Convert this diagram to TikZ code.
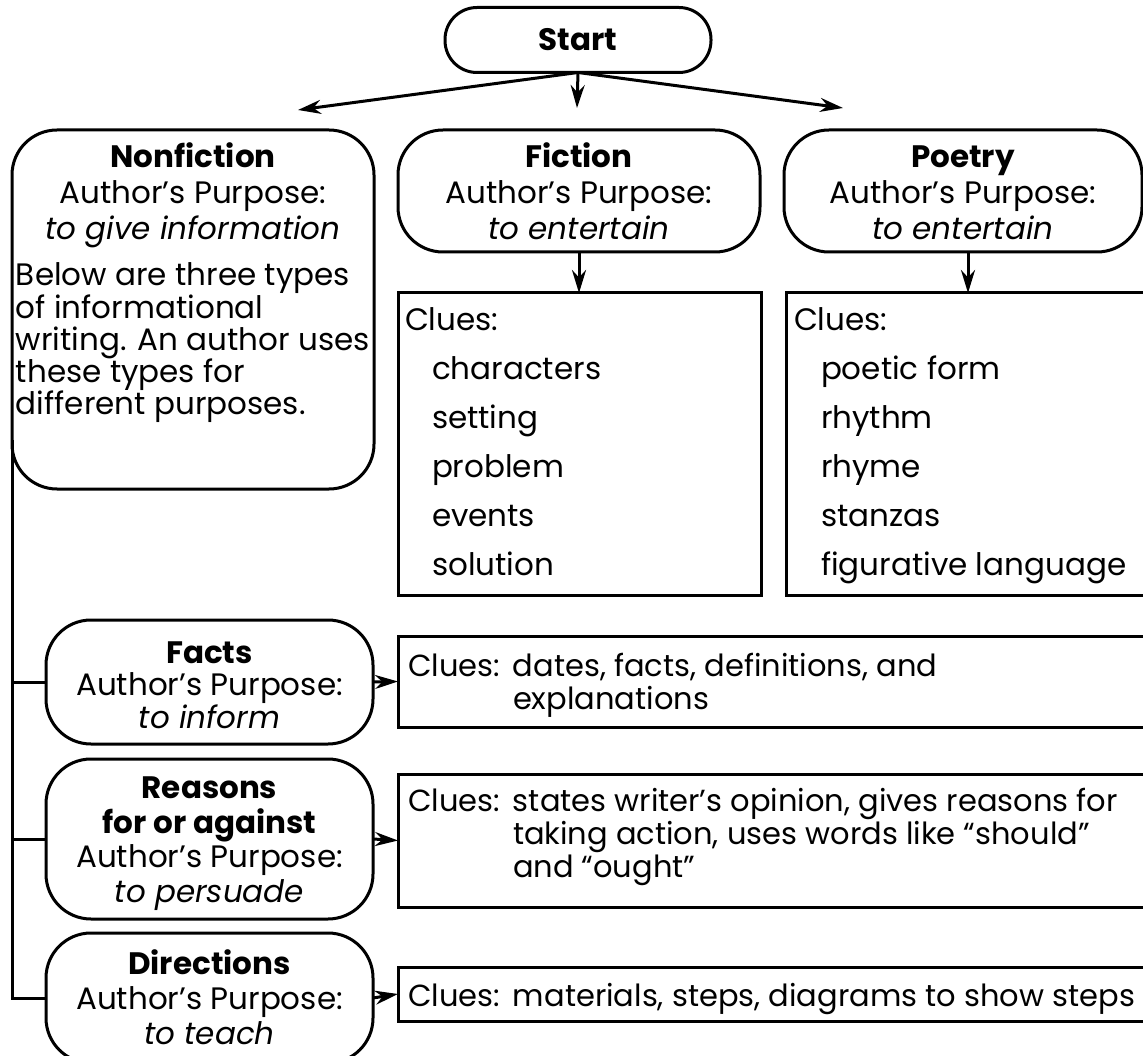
\documentclass[tikz,border=0pt]{standalone}
\usepackage{fontspec}
\setmainfont{Poppins}
\usetikzlibrary{arrows.meta}
\begin{document}
\begin{tikzpicture}[x=1pt,y=-1pt,
  every node/.style={inner sep=0pt, outer sep=0pt},
  rbox/.style={draw, line width=3pt, rounded corners=45pt},
  sbox/.style={draw, line width=3pt},
  ttl/.style={font=\fontsize{31}{36}\selectfont, anchor=base},
  body/.style={font=\fontsize{31}{28}\selectfont, anchor=base west},
  clue/.style={font=\fontsize{31}{49}\selectfont, anchor=base west},
  clue2/.style={font=\fontsize{30.5}{33}\selectfont, anchor=base west},
  conn/.style={line width=3pt},
  arr/.style={line width=3pt, -{Stealth[length=23pt,width=14pt]}}]
\useasboundingbox (0,0) rectangle (1143,1056);
\clip (0,0) rectangle (1143,1056);

% Start
\node[rbox, rounded corners=32pt, minimum width=266pt, minimum height=65pt] (start) at (578,40) {};
\node[font=\fontsize{31}{34}\selectfont\bfseries, anchor=base] (starttxt) at (578,51) {Start};

% Top row boxes
\node[rbox, minimum width=362pt, minimum height=359pt] (nonfic) at (193,309.5) {};
\node[rbox, minimum width=362pt, minimum height=122pt] (fic) at (579,191) {};
\node[rbox, minimum width=358pt, minimum height=122pt] (poe) at (963,191) {};

\node[ttl] (nonfictxt) at (193,168) {\begin{tabular}[t]{@{}c@{}}\textbf{Nonfiction}\\Author’s Purpose:\\\textit{to give information}\end{tabular}};
\node[ttl] (fictxt) at (579,168) {\begin{tabular}[t]{@{}c@{}}\textbf{Fiction}\\Author’s Purpose:\\\textit{to entertain}\end{tabular}};
\node[ttl] (poetxt) at (963,168) {\begin{tabular}[t]{@{}c@{}}\textbf{Poetry}\\Author’s Purpose:\\\textit{to entertain}\end{tabular}};

\node[body] (nfbody) at (16,286) {\begin{tabular}[t]{@{}l@{}}Below are three types\\of informational\\writing. An author uses\\these types for\\different purposes.\end{tabular}};

% free ends of the start arrows
\coordinate (lefttip) at (298,110);
\coordinate (midtip) at (577,108);
\coordinate (righttip) at (843,108);
\draw[arr] (start.south) -- (lefttip);
\draw[arr] (start.south) -- (midtip);
\draw[arr] (start.south) -- (righttip);

% Clue boxes
\node[sbox, minimum width=363pt, minimum height=302pt] (ficclues) at (579.5,444) {};
\node[sbox, minimum width=380pt, minimum height=302pt] (poeclues) at (976,444) {};

\node[clue] (ficcluetxt) at (405,331) {\begin{tabular}[t]{@{}l@{}}Clues:\\\hspace*{27pt}characters\\\hspace*{27pt}setting\\\hspace*{27pt}problem\\\hspace*{27pt}events\\\hspace*{27pt}solution\end{tabular}};
\node[clue] (poecluetxt) at (794,331) {\begin{tabular}[t]{@{}l@{}}Clues:\\\hspace*{27pt}poetic form\\\hspace*{27pt}rhythm\\\hspace*{27pt}rhyme\\\hspace*{27pt}stanzas\\\hspace*{27pt}figurative language\end{tabular}};

\draw[arr] (fic.south) -- (fic.south |- ficclues.north);
\coordinate (poeout) at (968,252);
\draw[arr] (poeout) -- (poeout |- poeclues.north);

% Nonfiction subtypes
\node[rbox, minimum width=327pt, minimum height=124pt] (facts) at (209.5,682) {};
\node[rbox, minimum width=327pt, minimum height=160pt] (reasons) at (209.5,839) {};
\node[rbox, minimum width=327pt, minimum height=130pt] (direc) at (209.5,998) {};

\node[ttl, font=\fontsize{31}{32}\selectfont] (factstxt) at (209.5,663) {\begin{tabular}[t]{@{}c@{}}\textbf{Facts}\\Author’s Purpose:\\\textit{to inform}\end{tabular}};
\node[ttl, font=\fontsize{31}{34.5}\selectfont] (reasonstxt) at (209.5,798) {\begin{tabular}[t]{@{}c@{}}\textbf{Reasons}\\\textbf{for or against}\\Author’s Purpose:\\\textit{to persuade}\end{tabular}};
\node[ttl, font=\fontsize{31}{35}\selectfont] (directxt) at (209.5,974) {\begin{tabular}[t]{@{}c@{}}\textbf{Directions}\\Author’s Purpose:\\\textit{to teach}\end{tabular}};

% clue boxes for subtypes
\node[sbox, minimum width=770pt, minimum height=91pt] (factsclues) at (783,681.5) {};
\node[sbox, minimum width=770pt, minimum height=133pt] (reasonsclues) at (783,840.5) {};
\node[sbox, minimum width=770pt, minimum height=54pt] (direcclues) at (783,994) {};

\node[clue2] (factsctxt) at (408,676) {\begin{tabular}[t]{@{}l@{}l@{}}\makebox[105pt][l]{Clues:}&dates, facts, definitions, and\\&explanations\end{tabular}};
\node[clue2] (reasonsctxt) at (408,811) {\begin{tabular}[t]{@{}l@{}l@{}}\makebox[105pt][l]{Clues:}&states writer’s opinion, gives reasons for\\&taking action, uses words like “should”\\&and “ought”\end{tabular}};
\node[clue2] (direcctxt) at (408,1006) {\begin{tabular}[t]{@{}l@{}l@{}}\makebox[105pt][l]{Clues:}&materials, steps, diagrams to show steps\end{tabular}};

% spine
\coordinate (spine) at (12,440);
\draw[conn] (spine) |- (direc.west);
\draw[conn] (spine |- facts.west) -- (facts.west);
\draw[conn] (spine |- reasons.west) -- (reasons.west);

\draw[arr] (facts.east) -- (factsclues.west);
\draw[arr] (reasons.east) -- (reasonsclues.west);
\draw[arr] (direc.east) -- (direcclues.west);
\end{tikzpicture}
\end{document}
